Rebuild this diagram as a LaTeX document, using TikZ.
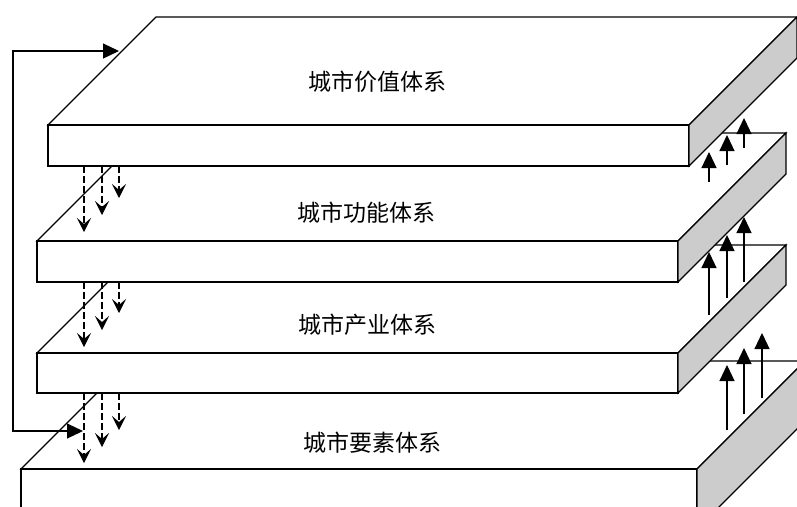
\documentclass[tikz,border=0pt]{standalone}
\usepackage{fontspec}
\newfontfamily\cjk{Noto Sans CJK SC}
\usetikzlibrary{arrows.meta}
\tikzset{%
  slabtop/.style={draw=black, fill=white, line width=1.2pt},
  slabside/.style={draw=black, fill=black!20, line width=1.2pt},
  uparrow/.style={-{Triangle[length=16pt,width=15pt]}, line width=1.2pt},
  downarrow/.style={-{Stealth[length=14pt,width=14pt,inset=6pt]}, dash pattern=on 7pt off 3pt, line width=1.2pt},
  looparrow/.style={{Triangle[length=16pt,width=15pt]}-{Triangle[length=16pt,width=15pt]}, line width=1.2pt},
  mylabel/.style={font=\cjk\fontsize{23}{26}\selectfont}
}
% slab: left x, top y, width, thickness (depth 108)
\newcommand{\drawslab}[4]{%
  \draw[slabtop] (#1,#2) -- ({#1+108},{#2-108}) -- ({#1+#3+108},{#2-108}) -- ({#1+#3},#2) -- cycle;
  \draw[slabtop] (#1,#2) rectangle ({#1+#3},{#2+#4});
  \draw[slabside] ({#1+#3},#2) -- ({#1+#3+108},{#2-108}) -- ({#1+#3+108},{#2-108+#4}) -- ({#1+#3},{#2+#4}) -- cycle;
}

\begin{document}
\begin{tikzpicture}[x=1pt, y=-1pt]
  \useasboundingbox (0,0) rectangle (797,506);
  \clip (0,0) rectangle (797,506);

  % slabs, lowest first
  \drawslab{21}{469}{676}{60}
  \drawslab{37}{353}{641}{40}
  \drawslab{37}{241}{641}{41}
  \drawslab{48}{125}{641}{41}

  \node[mylabel] (value) at (377,82) {城市价值体系};
  \node[mylabel] (function) at (366,213) {城市功能体系};
  \node[mylabel] (industry) at (367,325) {城市产业体系};
  \node[mylabel] (element) at (372,443) {城市要素体系};

  % downward flows
  \foreach \y/\i/\a/\b/\c in {166/1/232/215/198, 282/2/347/330/313, 393/3/463/447/430} {
    \coordinate (da\i) at (84,\y);
    \coordinate (db\i) at (102,\y);
    \coordinate (dc\i) at (119,\y);
    \coordinate (ea\i) at (84,\a);
    \coordinate (eb\i) at (102,\b);
    \coordinate (ec\i) at (119,\c);
    \draw[downarrow] (da\i) -- (ea\i);
    \draw[downarrow] (db\i) -- (eb\i);
    \draw[downarrow] (dc\i) -- (ec\i);
  }

  % upward flows
  \foreach \i/\xa/\xb/\xc/\ta/\tb/\tc/\ha/\hb/\hc in
      {1/709/727/744/182/165/148/152/135/118,
       2/709/727/744/315/298/282/252/235/217,
       3/727/744/762/430/414/398/365/348/333} {
    \coordinate (ua\i) at (\xa,\ta);
    \coordinate (ub\i) at (\xb,\tb);
    \coordinate (uc\i) at (\xc,\tc);
    \coordinate (va\i) at (\xa,\ha);
    \coordinate (vb\i) at (\xb,\hb);
    \coordinate (vc\i) at (\xc,\hc);
    \draw[uparrow] (ua\i) -- (va\i);
    \draw[uparrow] (ub\i) -- (vb\i);
    \draw[uparrow] (uc\i) -- (vc\i);
  }

  % feedback loop
  \coordinate (loopin) at (83,431);
  \coordinate (loopout) at (119,51);
  \draw[looparrow] (loopin) -- (13,431) -- (13,51) -- (loopout);
\end{tikzpicture}
\end{document}
